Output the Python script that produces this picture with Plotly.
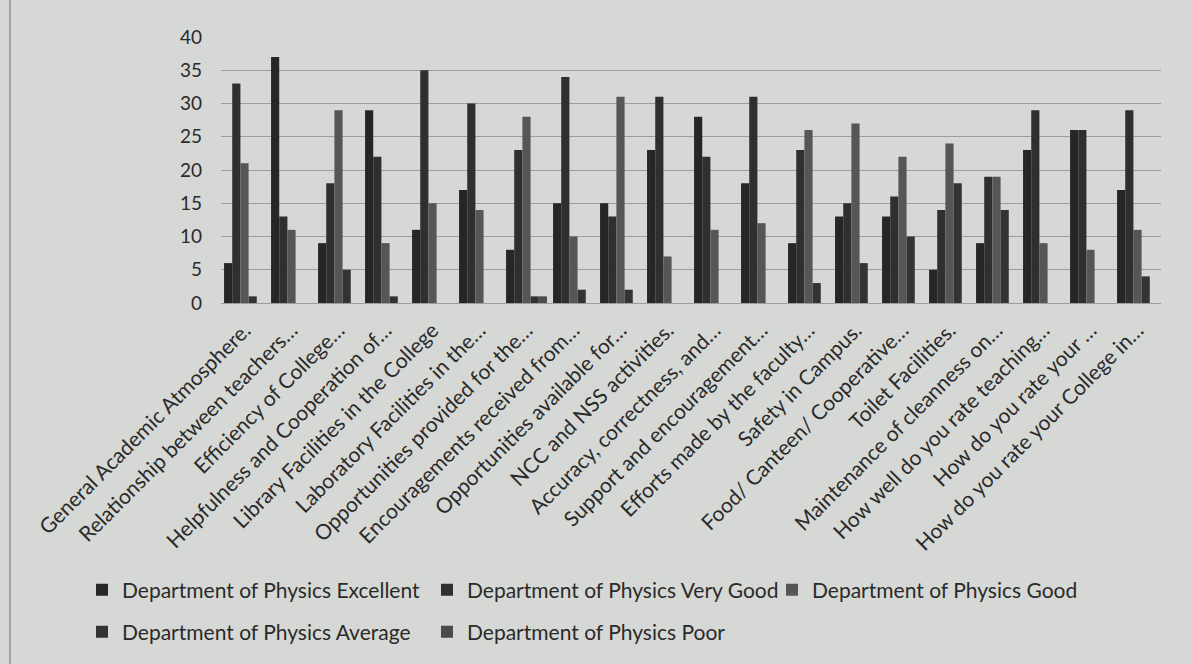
import plotly.graph_objects as go

categories = [
    "General Academic Atmosphere.",
    "Relationship between teachers…",
    "Efficiency of College…",
    "Helpfulness and Cooperation of…",
    "Library Facilities in the College",
    "Laboratory Facilities in the…",
    "Opportunities provided for the…",
    "Encouragements received from…",
    "Opportunities available for…",
    "NCC and NSS activities.",
    "Accuracy, correctness, and…",
    "Support and encouragement…",
    "Efforts made by the faculty…",
    "Safety in Campus.",
    "Food/ Canteen/ Cooperative…",
    "Toilet Facilities.",
    "Maintenance of cleanness on…",
    "How well do you rate teaching…",
    "How do you rate your …",
    "How do you rate your College in…",
]

excellent = [6, 37, 9, 29, 11, 17, 8, 15, 15, 23, 28, 18, 9, 13, 13, 5, 9, 23, 26, 17]
very_good = [33, 13, 18, 22, 35, 30, 23, 34, 13, 31, 22, 31, 23, 15, 16, 14, 19, 29, 26, 29]
good      = [21, 11, 29, 9, 15, 14, 28, 10, 31, 7, 11, 12, 26, 27, 22, 24, 19, 9, 8, 11]
average   = [1, 0, 5, 1, 0, 0, 1, 2, 2, 0, 0, 0, 3, 6, 10, 18, 14, 0, 0, 4]
poor      = [0, 0, 0, 0, 0, 0, 1, 0, 0, 0, 0, 0, 0, 0, 0, 0, 0, 0, 0, 0]

series_names = [
    "Department of Physics Excellent",
    "Department of Physics Very Good",
    "Department of Physics Good",
    "Department of Physics Average",
    "Department of Physics Poor",
]
series_values = [excellent, very_good, good, average, poor]
series_colors = ["#262626", "#2f2f2f", "#565656", "#333333", "#4a4a4a"]
series_legend = ["legend", "legend", "legend", "legend2", "legend2"]

BG = "#d6d8d5"
TXT = "#2a2a2a"
FONT = "Lato, Open Sans, sans-serif"

W, H = 1192, 664
L, R, T, B = 221, 31, 36, 361
PW = W - L - R
PH = H - T - B

fig = go.Figure()
for name, vals, col, lg in zip(series_names, series_values, series_colors, series_legend):
    fig.add_trace(go.Bar(
        x=categories, y=vals, name=name,
        marker=dict(color=col, line=dict(width=0)),
        legend=lg,
    ))

def px2x(px):
    return (px - L) / PW

def py2y(py):
    return (H - B - py) / PH

legend_common = dict(
    orientation="h",
    xanchor="left", yanchor="middle",
    bgcolor="rgba(0,0,0,0)",
    font=dict(family=FONT, size=21, color=TXT),
    entrywidth=300, entrywidthmode="pixels",
    itemwidth=30,
    traceorder="normal",
)

fig.update_layout(
    width=W, height=H,
    margin=dict(l=L, r=R, t=T, b=B, autoexpand=False),
    paper_bgcolor=BG, plot_bgcolor=BG,
    barmode="group", bargap=0.13, bargroupgap=0,
    font=dict(family=FONT, color=TXT),
    showlegend=True,
    legend=dict(x=px2x(82), y=py2y(590), **legend_common),
    legend2=dict(x=px2x(82), y=py2y(632), **legend_common),
    xaxis=dict(
        tickangle=-45,
        tickfont=dict(family=FONT, size=21, color=TXT),
        showgrid=False, showline=False, ticks="",
        ticklabelstandoff=10,
        automargin=False,
    ),
    yaxis=dict(
        range=[0, 40.15], tickvals=[0, 5, 10, 15, 20, 25, 30, 35, 40],
        tickfont=dict(family=FONT, size=19, color=TXT),
        gridcolor="#9d9e9c", gridwidth=1.2,
        zeroline=True, zerolinecolor="#9d9e9c", zerolinewidth=1.2,
        showline=False, ticks="", ticklabelstandoff=18,
        automargin=False,
    ),
    shapes=[
        dict(type="line", xref="paper", yref="paper",
             x0=px2x(10), x1=px2x(10), y0=py2y(0), y1=py2y(664),
             line=dict(color="#8f908e", width=1.5)),
    ],
)

fig.write_html("out.html", config={"displayModeBar": False},
               post_script="document.body.style.margin='0';")
